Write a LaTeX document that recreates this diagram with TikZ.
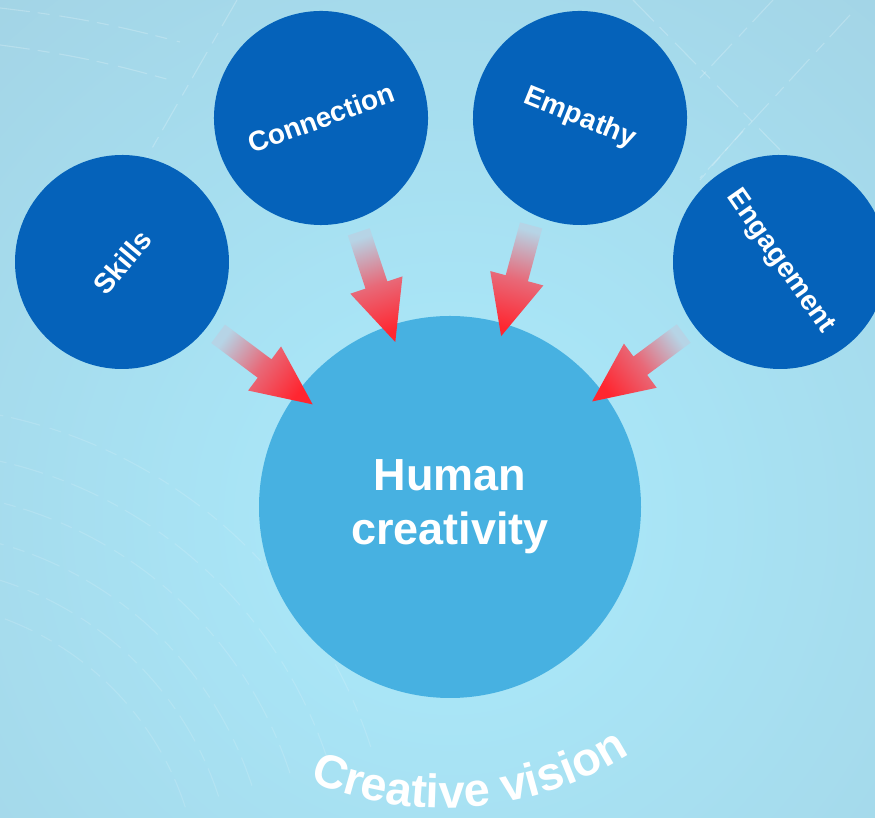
\documentclass[tikz,border=0pt]{standalone}
\usepackage{fontspec}
\setmainfont{Liberation Sans}
\usetikzlibrary{calc,decorations.text}
\definecolor{bgmid}{RGB}{171,235,252}
\definecolor{bgedge}{RGB}{156,192,210}
\definecolor{mainblue}{RGB}{71,177,225}
\definecolor{darkblue}{RGB}{5,98,186}
\definecolor{arrowred}{RGB}{255,38,48}
\definecolor{arrowmid}{RGB}{232,105,120}
\definecolor{arrowtail}{RGB}{182,212,230}
\newcommand\gradarrow[3]{%
  \shade[bottom color=arrowtail, top color=arrowred, middle color=arrowmid, shading angle=#3]
    ($(#1)!11.5pt!90:(#2)$) --
    ($($(#2)!60pt!(#1)$)!11.5pt!-90:(#1)$) --
    ($($(#2)!60pt!(#1)$)!27.5pt!-90:(#1)$) --
    (#2) --
    ($($(#2)!60pt!(#1)$)!27.5pt!90:(#1)$) --
    ($($(#2)!60pt!(#1)$)!11.5pt!90:(#1)$) --
    ($(#1)!11.5pt!-90:(#2)$) -- cycle;}
\begin{document}
\begin{tikzpicture}[x=1pt,y=1pt,
  bubble/.style={circle, fill=darkblue, minimum size=214pt, inner sep=0pt,
    text=white, font=\fontsize{28}{30}\selectfont\bfseries},
  bigbubble/.style={circle, fill=mainblue, minimum size=382pt, inner sep=0pt,
    text=white, align=center, font=\fontsize{45}{54}\selectfont\bfseries},
  deco/.style={white, opacity=0.22, line width=1.1pt},
  decodash/.style={deco, dash pattern=on 30pt off 8pt on 12pt off 10pt}]
\useasboundingbox (0,0) rectangle (875,818);
% background
\begin{scope}
\clip (0,0) rectangle (875,818);
\shade[inner color=bgmid, outer color=bgedge] (450-1300,300-1300) rectangle (450+1300,300+1300);
% faint decorative lines
\draw[decodash] (0,810) to[bend left=4] (180,776);
\draw[decodash] (0,773) to[bend left=4] (170,738);
\draw[decodash] (237,818) -- (147,661);
\draw[decodash] (633,818) -- (790,658);
\draw[decodash] (773,818) -- (700,740);
\draw[decodash] (850,803) -- (700,640);
\draw[decodash] (745,690) -- (700,638);
\foreach \r in {300,335,370,410,450,495} {
  \draw[decodash, opacity=0.14] (-100,-82) ++(18:\r) arc[start angle=18, end angle=80, radius=\r];
}
\end{scope}
% circles
\node[bigbubble] (main) at (450,311) {Human\\creativity};
\node[bubble, rotate=50] (skills) at (122,556) {Skills};
\node[bubble, rotate=20] (connection) at (321,700) {Connection};
\node[bubble, rotate=-22] (empathy) at (580,700) {Empathy};
\node[bubble, rotate=-55] (engagement) at (780,556) {Engagement};
% arrow anchor points
\coordinate (t1) at ($(skills.center)!120pt!(main.center)$);
\coordinate (h1) at ($(skills.center)!238pt!(main.center)$);
\coordinate (t2) at ($(connection.center)!120pt!(main.center)$);
\coordinate (h2) at ($(connection.center)!236pt!(main.center)$);
\coordinate (t3) at ($(empathy.center)!118pt!-6:(main.center)$);
\coordinate (h3) at ($(empathy.center)!232pt!-1.4:(main.center)$);
\coordinate (t4) at ($(engagement.center)!120pt!(main.center)$);
\coordinate (h4) at ($(engagement.center)!234pt!(main.center)$);
\gradarrow{t1}{h1}{-126.75}
\gradarrow{t2}{h2}{-161.6}
\gradarrow{t3}{h3}{-195.3}
\gradarrow{t4}{h4}{-233.4}
% curved caption
\coordinate (capc) at (444,355);
\path[decorate, decoration={text along path, text align=center, text color=white,
  text={|\fontsize{47}{47}\selectfont\bfseries|Creative vision}}]
  (capc) ++(-125.2:345) arc[start angle=-125.2, end angle=-45.2, radius=345];
\end{tikzpicture}
\end{document}
